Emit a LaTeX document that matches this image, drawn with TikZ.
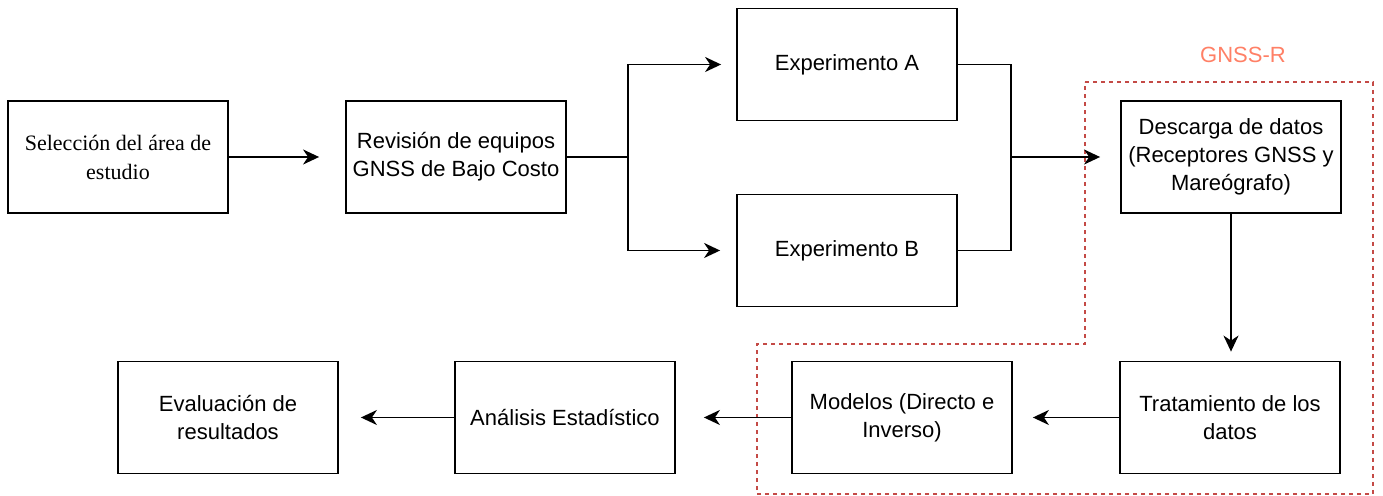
\documentclass[tikz,border=0pt]{standalone}
\usepackage{fontspec}
\setmainfont{Liberation Sans}
\newfontfamily\timesfont{Liberation Serif}
\usetikzlibrary{positioning, arrows.meta}

\definecolor{regionred}{RGB}{196,74,70}
\definecolor{labelsalmon}{RGB}{255,128,102}

\begin{document}
\begin{tikzpicture}[
	x=0.5pt, y=-0.5pt,
	% Style for the process boxes
	stage/.style={
		rectangle,
		draw=black,
		line width=0.9pt,
		fill=white,
		minimum width=110pt,
		minimum height=56pt,
		align=center,
		font=\fontsize{11}{14}\selectfont
	},
	% Style for the arrows between stages
	flow/.style={
		line width=0.8pt,
		-{Stealth[length=8pt, width=7.5pt, inset=2.5pt]}
	},
	link/.style={
		line width=0.8pt
	},
	% Dashed outline of the GNSS-R block
	region/.style={
		draw=regionred,
		line width=0.6pt,
		dash pattern=on 2pt off 2pt
	}
	]
	\useasboundingbox (0,0) rectangle (1383,496);
	
	% GNSS-R block outline and its label
	\draw[region] (1085,82) -- (1373,82) -- (1373,494) -- (757,494) -- (757,344) -- (1085,344) -- cycle;
	\node[text=labelsalmon, font=\fontsize{11}{14}\selectfont] (gnssr) at (1243,55) {GNSS-R};
	
	% Top row
	\node[stage, font=\timesfont\fontsize{11}{14.5}\selectfont] (sel) at (118,157) {Selección del área de\\estudio};
	\node[stage] (rev) at (456,157) {Revisión de equipos\\GNSS de Bajo Costo};
	\node[stage] (expA) at (847,64.5) {Experimento A};
	\node[stage] (expB) at (847,250.5) {Experimento B};
	\node[stage] (desc) at (1231,157) {Descarga de datos\\(Receptores GNSS y\\Mareógrafo)};
	
	% Bottom row
	\node[stage] (trat) at (1230,417.5) {Tratamiento de los\\datos};
	\node[stage] (mod) at (902,417.5) {Modelos (Directo e\\Inverso)};
	\node[stage] (ana) at (565,417.5) {Análisis Estadístico};
	\node[stage] (eva) at (228,417.5) {Evaluación de\\resultados};
	
	% Branch and merge points of the two experiments
	\coordinate (split) at (628,157);
	\coordinate (merge) at (1011,157);
	
	\draw[flow, shorten >=13pt] (sel.east) -- (rev.west);
	\draw[link] (rev.east) -- (split);
	\draw[flow, shorten >=7.5pt] (split) |- (expA.west);
	\draw[flow, shorten >=8pt] (split) |- (expB.west);
	\draw[link] (expA.east) -| (merge);
	\draw[link] (expB.east) -| (merge);
	\draw[flow, shorten >=10pt] (merge) -- (desc.west);
	\draw[flow, shorten >=4.5pt] (desc.south) -- (desc.south |- trat.north);
	\draw[flow, shorten >=10pt] (trat.west) -- (mod.east);
	\draw[flow, shorten >=14pt] (mod.west) -- (ana.east);
	\draw[flow, shorten >=11pt] (ana.west) -- (eva.east);
	
\end{tikzpicture}
\end{document}
